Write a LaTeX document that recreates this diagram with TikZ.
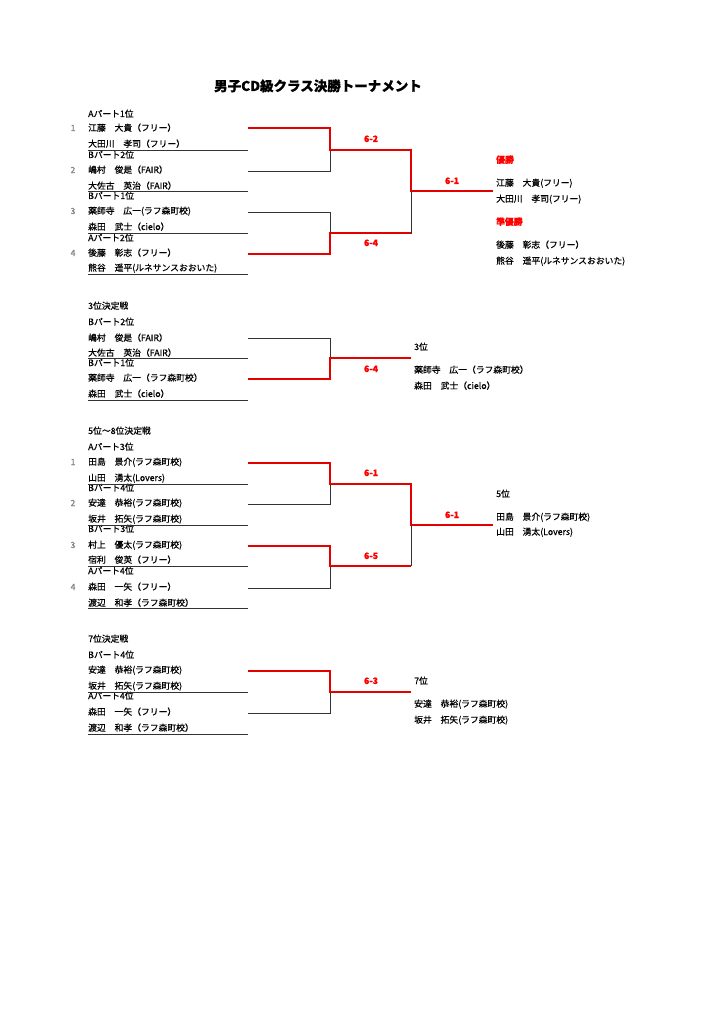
\documentclass[tikz,border=0pt]{standalone}
\usepackage{fontspec}
\setmainfont{Noto Sans CJK JP}[FakeBold=0.5]
\begin{document}
\begin{tikzpicture}[x=1pt,y=-1pt,
  txt/.style={anchor=base west,inner sep=0pt,font=\fontsize{8.8}{9}\selectfont},
  num/.style={anchor=base,inner sep=0pt,font=\fontsize{8.5}{9}\selectfont,text=gray},
  score/.style={anchor=base,inner sep=0pt,font=\fontsize{8.8}{9}\selectfont\bfseries,text=red},
  rtxt/.style={anchor=base west,inner sep=0pt,font=\fontsize{8.8}{9}\selectfont\bfseries,text=red},
  bl/.style={draw=black!80,line width=0.9pt},
  rd/.style={draw=red!90!black,line width=1.4pt}]
\useasboundingbox (0,0) rectangle (724,1024);
\node[anchor=base,inner sep=0pt,font=\fontsize{13.5}{14}\selectfont\bfseries] (title) at (318,91) {男子CD級クラス決勝トーナメント};
% --- main bracket
\node[txt] (l1) at (88,117) {Aパート1位};
\node[num] (n1) at (73,131) {1};
\node[txt] (t1) at (88,131) {江藤　大貴（フリー）};
\node[txt] (t2) at (88,147) {大田川　孝司（フリー）};
\node[txt] (l2) at (88,158) {Bパート2位};
\node[num] (n2) at (73,173) {2};
\node[txt] (t3) at (88,173) {嶋村　俊是（FAIR）};
\node[txt] (t4) at (88,189) {大佐古　英治（FAIR）};
\node[txt] (l3) at (88,199) {Bパート1位};
\node[num] (n3) at (73,214) {3};
\node[txt] (t5) at (88,214) {薬師寺　広一(ラフ森町校)};
\node[txt] (t6) at (88,230) {森田　武士（cielo）};
\node[txt] (l4) at (88,241) {Aパート2位};
\node[num] (n4) at (73,256) {4};
\node[txt] (t7) at (88,256) {後藤　彰志（フリー）};
\node[txt] (t8) at (88,271) {熊谷　遥平(ルネサンスおおいた)};
\draw[bl] (88,150)--(248,150) (88,191)--(248,191) (88,233)--(248,233) (88,274)--(248,274);
\draw[bl] (248,171)--(330,171)--(330,150);
\draw[bl] (248,212)--(330,212)--(330,233);
\draw[bl] (411,191)--(411,233)--(330,233);
\draw[rd] (248,128)--(330,128)--(330,150)--(411,150)--(411,191)--(493,191);
\draw[rd] (248,254)--(330,254)--(330,233)--(411,233);
\node[score] (s1) at (371,142) {6-2};
\node[score] (s2) at (371,246) {6-4};
\node[score] (s3) at (452,184) {6-1};
\node[rtxt] (w0) at (496,163) {優勝};
\node[txt] (w1) at (496,186) {江藤　大貴(フリー)};
\node[txt] (w2) at (496,202) {大田川　孝司(フリー)};
\node[rtxt] (r0) at (496,225) {準優勝};
\node[txt] (r1) at (496,248) {後藤　彰志（フリー）};
\node[txt] (r2) at (496,264) {熊谷　遥平(ルネサンスおおいた)};
% --- 3rd place
\node[txt] (h3) at (88,309) {3位決定戦};
\node[txt] (m1) at (88,325) {Bパート2位};
\node[txt] (m2) at (88,341) {嶋村　俊是（FAIR）};
\node[txt] (m3) at (88,356) {大佐古　英治（FAIR）};
\node[txt] (m4) at (88,366) {Bパート1位};
\node[txt] (m5) at (88,381) {薬師寺　広一（ラフ森町校）};
\node[txt] (m6) at (88,397) {森田　武士（cielo）};
\draw[bl] (88,358)--(248,358) (88,400)--(248,400);
\draw[bl] (248,338)--(330,338)--(330,358);
\draw[rd] (248,379)--(330,379)--(330,358)--(411,358);
\node[score] (s4) at (371,372) {6-4};
\node[txt] (p0) at (414,350) {3位};
\node[txt] (p1) at (414,373) {薬師寺　広一（ラフ森町校）};
\node[txt] (p2) at (414,389) {森田　武士（cielo）};
% --- 5-8
\node[txt] (h5) at (88,434) {5位～8位決定戦};
\node[txt] (k1) at (88,450) {Aパート3位};
\node[num] (kn1) at (73,465) {1};
\node[txt] (k2) at (88,465) {田島　景介(ラフ森町校)};
\node[txt] (k3) at (88,481) {山田　湧太(Lovers)};
\node[txt] (k4) at (88,491) {Bパート4位};
\node[num] (kn2) at (73,506) {2};
\node[txt] (k5) at (88,506) {安達　恭裕(ラフ森町校)};
\node[txt] (k6) at (88,522) {坂井　拓矢(ラフ森町校)};
\node[txt] (k7) at (88,532) {Bパート3位};
\node[num] (kn3) at (73,548) {3};
\node[txt] (k8) at (88,548) {村上　優太(ラフ森町校)};
\node[txt] (k9) at (88,563) {宿利　俊英（フリー）};
\node[txt] (k10) at (88,574) {Aパート4位};
\node[num] (kn4) at (73,590) {4};
\node[txt] (k11) at (88,590) {森田　一矢（フリー）};
\node[txt] (k12) at (88,606) {渡辺　和孝（ラフ森町校）};
\draw[bl] (88,484)--(248,484) (88,525)--(248,525) (88,566)--(248,566) (88,608)--(248,608);
\draw[bl] (248,504)--(330,504)--(330,484);
\draw[bl] (248,588)--(330,588)--(330,566);
\draw[bl] (411,525)--(411,566);
\draw[rd] (248,463)--(330,463)--(330,484)--(411,484)--(411,525)--(493,525);
\draw[rd] (248,546)--(330,546)--(330,566)--(411,566);
\node[score] (s5) at (371,476) {6-1};
\node[score] (s6) at (371,559) {6-5};
\node[score] (s7) at (452,518) {6-1};
\node[txt] (q0) at (496,497) {5位};
\node[txt] (q1) at (496,520) {田島　景介(ラフ森町校)};
\node[txt] (q2) at (496,535) {山田　湧太(Lovers)};
% --- 7th
\node[txt] (h7) at (88,642) {7位決定戦};
\node[txt] (g1) at (88,658) {Bパート4位};
\node[txt] (g2) at (88,673) {安達　恭裕(ラフ森町校)};
\node[txt] (g3) at (88,689) {坂井　拓矢(ラフ森町校)};
\node[txt] (g4) at (88,699) {Aパート4位};
\node[txt] (g5) at (88,715) {森田　一矢（フリー）};
\node[txt] (g6) at (88,731) {渡辺　和孝（ラフ森町校）};
\draw[bl] (88,692)--(248,692) (88,734)--(248,734);
\draw[bl] (248,713)--(330,713)--(330,692);
\draw[rd] (248,671)--(330,671)--(330,692)--(411,692);
\node[score] (s8) at (371,684) {6-3};
\node[txt] (v0) at (414,684) {7位};
\node[txt] (v1) at (414,707) {安達　恭裕(ラフ森町校)};
\node[txt] (v2) at (414,723) {坂井　拓矢(ラフ森町校)};
\end{tikzpicture}
\end{document}
